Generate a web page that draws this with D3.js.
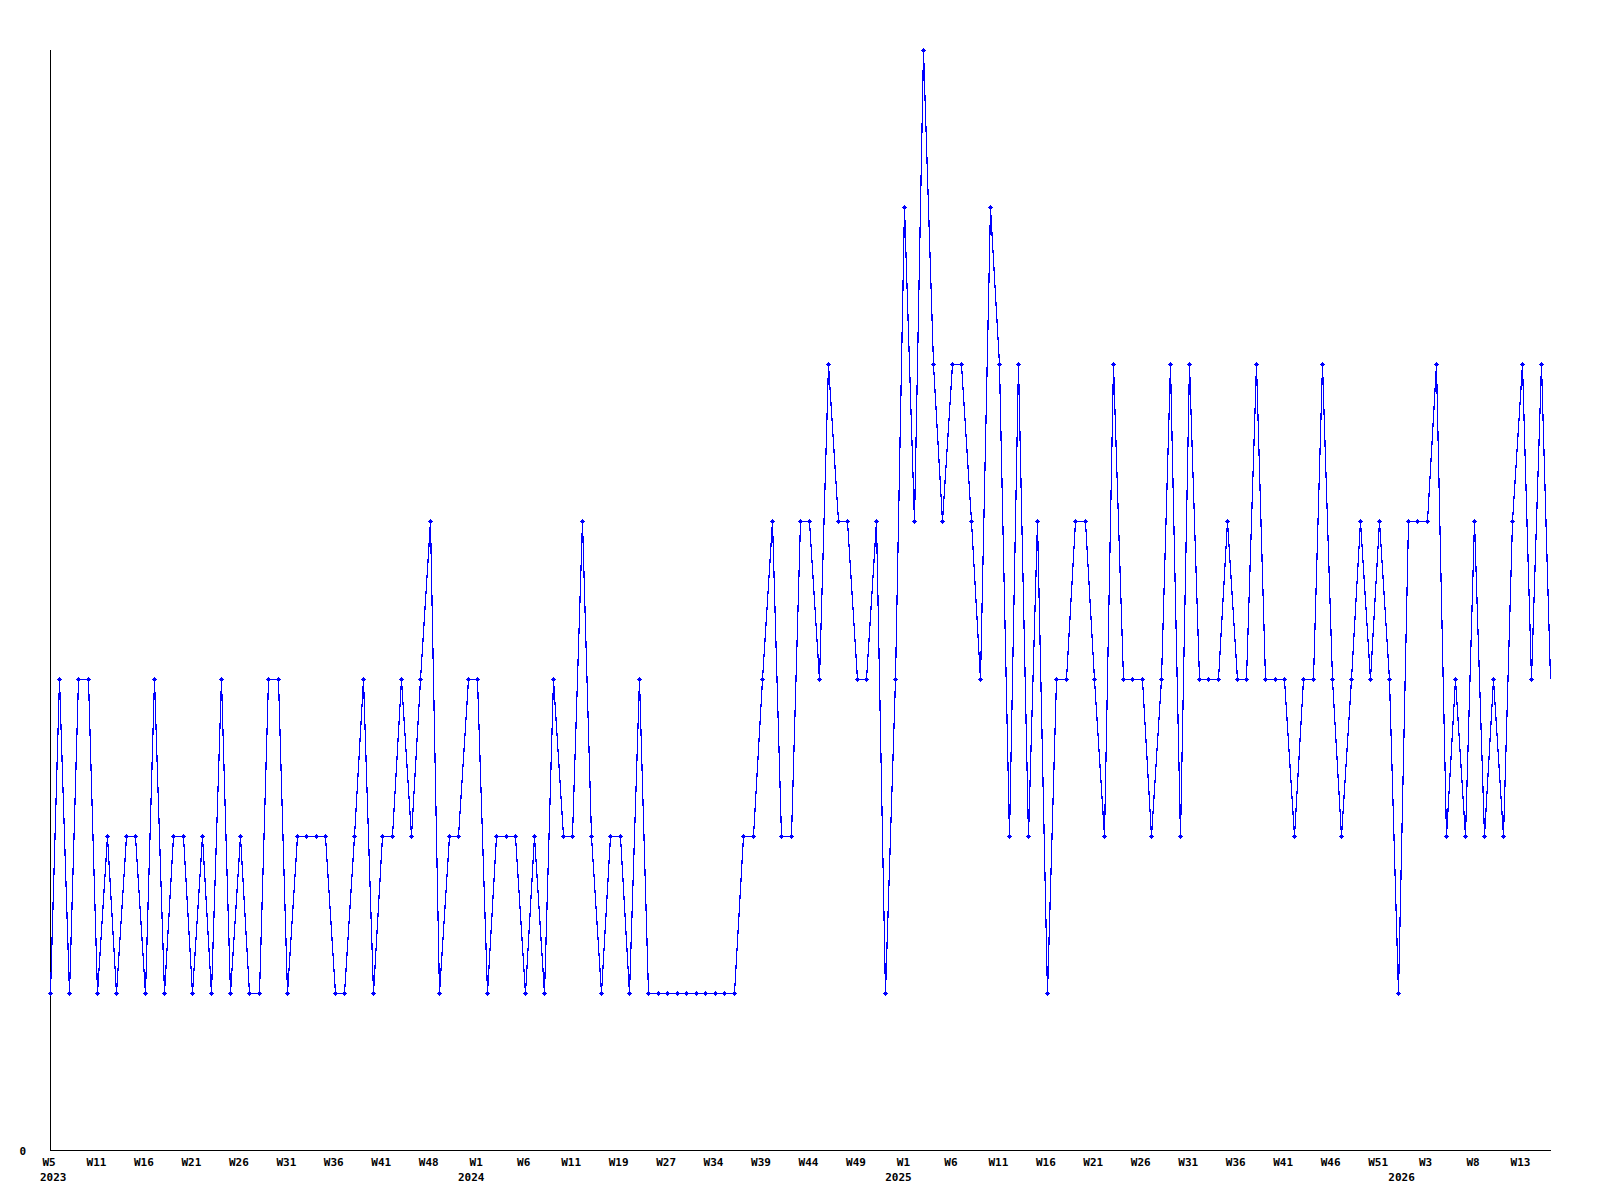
<!DOCTYPE html>
<html>
<head>
<meta charset="utf-8">
<script src="https://cdn.jsdelivr.net/npm/d3@7"></script>
<style>
    body { margin:0; background:#fff; }
    svg text { font-family:"DejaVu Sans Mono", monospace; font-weight:bold; font-size:11px; fill:#000; }
</style>
</head>
<body>
<svg id="chart" width="1600" height="1200"></svg>
<script>
// weekly counts, one per point
var values = [
    1,3,1,3,3,1,2,1,2,2, 1,3,1,2,2,1,2,1,3,1,
    2,1,1,3,3,1,2,2,2,2, 1,1,2,3,1,2,2,3,2,3,
    4,1,2,2,3,3,1,2,2,2, 1,2,1,3,2,2,4,2,1,2,
    2,1,3,1,1,1,1,1,1,1, 1,1,1,2,2,3,4,2,2,4,
    4,3,5,4,4,3,3,4,1,3, 6,4,7,5,4,5,5,4,3,6,
    5,2,5,2,4,1,3,3,4,4, 3,2,5,3,3,3,2,3,5,2,
    5,3,3,3,4,3,3,5,3,3, 3,2,3,3,5,3,2,3,4,3,
    4,3,1,4,4,4,5,2,3,2, 4,2,3,2,4,5,3,5,3
];
// a label on every 5th point
var weekLabels = ['W5','W11','W16','W21','W26','W31','W36','W41','W48',
    'W1','W6','W11','W19','W27','W34','W39','W44','W49',
    'W1','W6','W11','W16','W21','W26','W31','W36','W41','W46','W51',
    'W3','W8','W13'];
var yearLabels = ['2023','2024','2025','2026'];
var yearStarts = [0, 45, 90, 143];
var yMax = 7;

var conf = {
    left:50,
    right:1550,
    top:50,
    bottom:1150,
    labelStep:5
};

var svg = d3.select('#chart');

var x = d3.scalePoint()
    .domain(d3.range(values.length))
    .range([conf.left, conf.right]);

var y = d3.scaleLinear()
    .domain([0, yMax])
    .range([conf.bottom, conf.top]);

// x axis, no tick marks
var xAxis = d3.axisBottom(x)
    .tickValues(d3.range(0, values.length, conf.labelStep))
    .tickFormat(function(d){ return weekLabels[d/conf.labelStep]; })
    .tickSize(0);

var gx = svg.append('g')
    .attr('transform', 'translate(0,' + conf.bottom + ')')
    .call(xAxis);
gx.select('.domain').attr('stroke', '#000').attr('shape-rendering', 'crispEdges')
    .attr('d', 'M' + conf.left + ',0.5H' + (conf.right + 1));
gx.selectAll('text')
    .attr('y', 16)
    .attr('dy', 0)
    .attr('dx', -1.5)
    .attr('fill', '#000');

// y axis, only the zero label
var yAxis = d3.axisLeft(y)
    .tickValues([0])
    .tickFormat(d3.format('d'))
    .tickSize(0)
    .tickPadding(24);

var gy = svg.append('g')
    .attr('transform', 'translate(' + conf.left + ',0)')
    .call(yAxis);
gy.select('.domain').attr('stroke', '#000').attr('shape-rendering', 'crispEdges')
    .attr('d', 'M0.5,' + conf.top + 'V' + conf.bottom);
gy.selectAll('text').attr('dy', 4).attr('fill', '#000');

// year labels under the first week of each year
svg.append('g').selectAll('text')
    .data(yearLabels)
    .enter().append('text')
    .attr('y', conf.bottom + 31)
    .text(function(d){ return d; })
    .each(function(d, i){
        var w = this.getComputedTextLength();
        var cx = x(yearStarts[i]) - 6;
        if(cx - w/2 < conf.left - 10){ cx = conf.left - 10 + w/2; }
        d3.select(this).attr('x', cx).attr('text-anchor', 'middle');
    });

// the line
var line = d3.line()
    .x(function(d, i){ return Math.round(x(i)) + 0.5; })
    .y(function(d){ return Math.round(y(d)) + 0.5; });

svg.append('path')
    .datum(values)
    .attr('d', line)
    .attr('fill', 'none')
    .attr('stroke', '#0000ff')
    .attr('stroke-width', 1.2)
    .attr('shape-rendering', 'crispEdges');

// small plus markers, last point has none
var marker = function(cx, cy){
    return 'M' + (cx-2) + ',' + cy + 'h5v1h-5z' +
        'M' + cx + ',' + (cy-2) + 'h1v5h-1z' +
        'M' + (cx-1) + ',' + (cy-1) + 'h3v3h-3z';
};

svg.append('g').selectAll('path')
    .data(values.slice(0, values.length - 1))
    .enter().append('path')
    .attr('d', function(d, i){ return marker(Math.round(x(i)), Math.round(y(d))); })
    .attr('fill', '#0000ff')
    .attr('shape-rendering', 'crispEdges');
</script>
</body>
</html>
